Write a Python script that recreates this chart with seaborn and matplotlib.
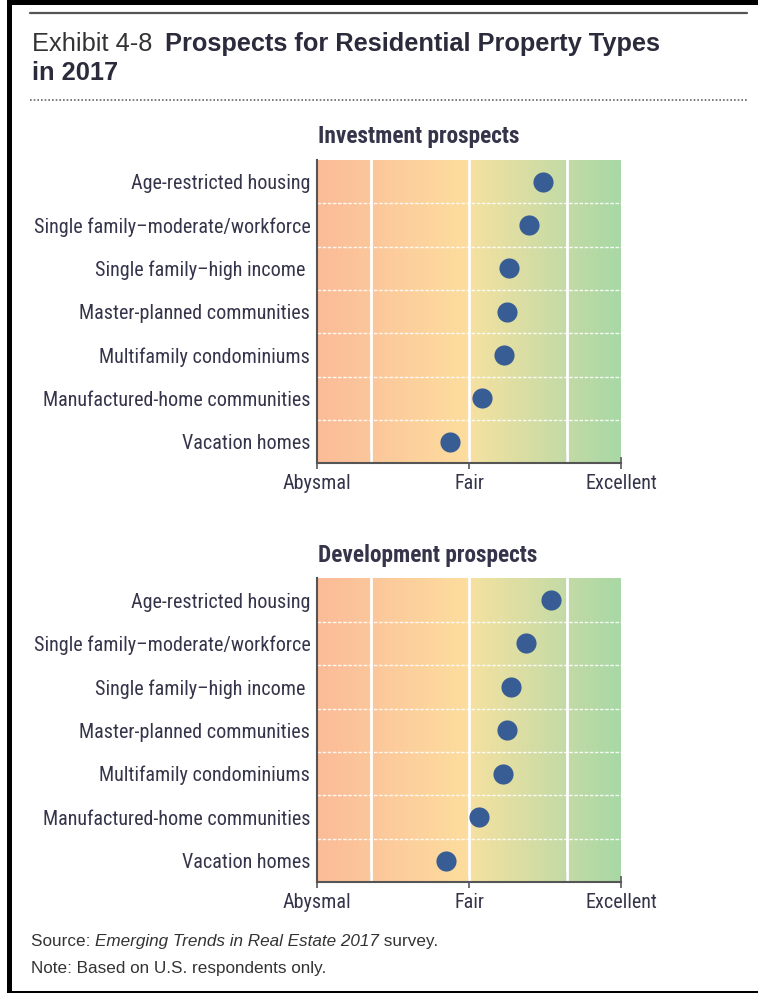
import numpy as np
import pandas as pd
import matplotlib
matplotlib.use("Agg")
import matplotlib.pyplot as plt
from matplotlib.colors import LinearSegmentedColormap
from matplotlib.lines import Line2D
from matplotlib.patches import Rectangle
import seaborn as sns

# ---------------- data ----------------
categories = [
    "Age-restricted housing",
    "Single family\u2013moderate/workforce",
    "Single family\u2013high income ",
    "Master-planned communities",
    "Multifamily condominiums",
    "Manufactured-home communities",
    "Vacation homes",
]
investment = [6.95, 6.58, 6.06, 6.00, 5.93, 5.33, 4.50]
development = [7.15, 6.51, 6.09, 6.01, 5.90, 5.26, 4.38]
tick_values = [1, 5, 9]
tick_labels = ["Abysmal", "Fair", "Excellent"]
minor_ticks = [2.41, 7.59]
panel_titles = ["Investment prospects", "Development prospects"]

# ---------------- style ----------------
sns.set_style("white")
NARROW = ["Roboto Condensed", "Archivo Narrow", "DejaVu Sans"]
SANS = ["Liberation Sans", "DejaVu Sans"]
plt.rcParams["font.family"] = NARROW
TXT = "#35344a"
DOT = "#375D94"

W, H = 758, 993
fig = plt.figure(figsize=(W / 100, H / 100), dpi=100)
renderer = fig.canvas.get_renderer()


def fx(px):
    return px / W


def fy(py):
    return 1 - py / H


def fit_size(text, family, target_px, weight="normal", style="normal", base=14):
    t = fig.text(0, 0, text, fontsize=base, family=family, fontweight=weight,
                 style=style)
    w = t.get_window_extent(renderer=renderer).width
    t.remove()
    return base * target_px / w


LABEL_FS = fit_size("Single family\u2013moderate/workforce", NARROW, 278)
PANEL_FS = fit_size("Investment prospects", NARROW, 203, weight="bold")
TITLE_FS = fit_size("Prospects for Residential Property Types", SANS, 496,
                    weight="bold")
FOOT_FS = fit_size("Note: Based on U.S. respondents only.", SANS, 296)

cmap = LinearSegmentedColormap.from_list(
    "prospect",
    [(0.0, "#FBBC98"), (0.2, "#FCC89B"), (0.49, "#FDDD9E"),
     (0.52, "#F3E1A1"), (0.85, "#BFDAA6"), (1.0, "#A8D8A4")],
)

ax_left, ax_right = 317.3, 621.0
panels = [(160.0, 463.3, investment), (578.3, 882.3, development)]

for i, (top, bottom, vals) in enumerate(panels):
    ax = fig.add_axes([fx(ax_left), fy(bottom), fx(ax_right - ax_left),
                       (bottom - top) / H])
    grad = np.linspace(0, 1, 400).reshape(1, -1)
    ax.imshow(grad, extent=[1, 9, 6.5, -0.5], aspect="auto", cmap=cmap,
              zorder=0, interpolation="bilinear")
    df = pd.DataFrame({"category": categories, "value": vals})
    sns.stripplot(data=df, x="value", y="category", orient="h", jitter=False,
                  size=14.5, color=DOT, linewidth=0, ax=ax, zorder=5)
    ax.set_xlim(1, 9)
    ax.set_ylim(6.5, -0.5)
    for xv in minor_ticks + [5]:
        ax.axvline(xv, color="white", lw=2, zorder=1)
    for yv in np.arange(0.5, 6, 1):
        ax.axhline(yv, color="white", lw=1, ls=(0, (2.5, 1.2)), alpha=0.9,
                   xmin=0, xmax=1, zorder=1)
    ax.set_xlabel("")
    ax.set_ylabel("")
    ax.set_xticks(tick_values)
    ax.set_xticklabels(tick_labels, fontsize=LABEL_FS, color=TXT,
                       family=NARROW)
    ax.set_xticks(minor_ticks, minor=True)
    ax.tick_params(axis="x", which="major", direction="inout", length=9,
                   width=1.3, color="#666666", pad=3, bottom=True)
    ax.tick_params(axis="x", which="minor", direction="in", length=7,
                   width=1.3, color="#555555", bottom=True)
    ax.tick_params(axis="y", which="both", length=0, pad=5)
    for lab in ax.get_yticklabels():
        lab.set_fontsize(LABEL_FS)
        lab.set_color(TXT)
        lab.set_family(NARROW)
    for s in ["top", "right"]:
        ax.spines[s].set_visible(False)
    ax.spines["left"].set_color("#555555")
    ax.spines["left"].set_linewidth(1.5)
    ax.spines["bottom"].set_color("#555555")
    ax.spines["bottom"].set_linewidth(1.5)
    fig.text(fx(318), fy(top - 23), panel_titles[i], fontsize=PANEL_FS,
             fontweight="bold", color=TXT, family=NARROW, ha="left",
             va="center")

# ---------------- title & decorations ----------------
fig.text(fx(32), fy(51), "Exhibit 4-8", fontsize=TITLE_FS, color="#333333",
         family=SANS, ha="left", va="baseline")
fig.text(fx(165), fy(51), "Prospects for Residential Property Types",
         fontsize=TITLE_FS, fontweight="bold", color="#2b2b3b", family=SANS,
         ha="left", va="baseline")
fig.text(fx(32), fy(80), "in 2017", fontsize=TITLE_FS, fontweight="bold",
         color="#2b2b3b", family=SANS, ha="left", va="baseline")

fig.add_artist(Line2D([fx(30), fx(747)], [fy(12.5), fy(12.5)], color="#555555",
                      lw=1.6, transform=fig.transFigure))
fig.add_artist(Line2D([fx(30), fx(747)], [fy(100), fy(100)], color="#666666",
                      lw=1.2, ls=(0, (1, 1.2)), transform=fig.transFigure))
# black frame (top, left, bottom)
fig.add_artist(Rectangle((fx(7), fy(5)), 1 - fx(7), 5 / H, color="black",
                         transform=fig.transFigure, lw=0))
fig.add_artist(Rectangle((fx(7), 0), 4.5 / W, 1, color="black",
                         transform=fig.transFigure, lw=0))
fig.add_artist(Rectangle((fx(7), 0), 1 - fx(7), 2.5 / H, color="black",
                         transform=fig.transFigure, lw=0))

# ---------------- footer ----------------
x = fx(31)
for txt, style in [("Source: ", "normal"),
                   ("Emerging Trends in Real Estate 2017", "italic"),
                   (" survey.", "normal")]:
    t = fig.text(x, fy(946), txt, fontsize=FOOT_FS, style=style,
                 color="#333333", family=SANS, ha="left", va="baseline")
    bb = t.get_window_extent(renderer=renderer)
    x = x + bb.width / W
fig.text(fx(31), fy(973), "Note: Based on U.S. respondents only.",
         fontsize=FOOT_FS, color="#333333", family=SANS, ha="left",
         va="baseline")

fig.savefig("out.png", dpi=100)
